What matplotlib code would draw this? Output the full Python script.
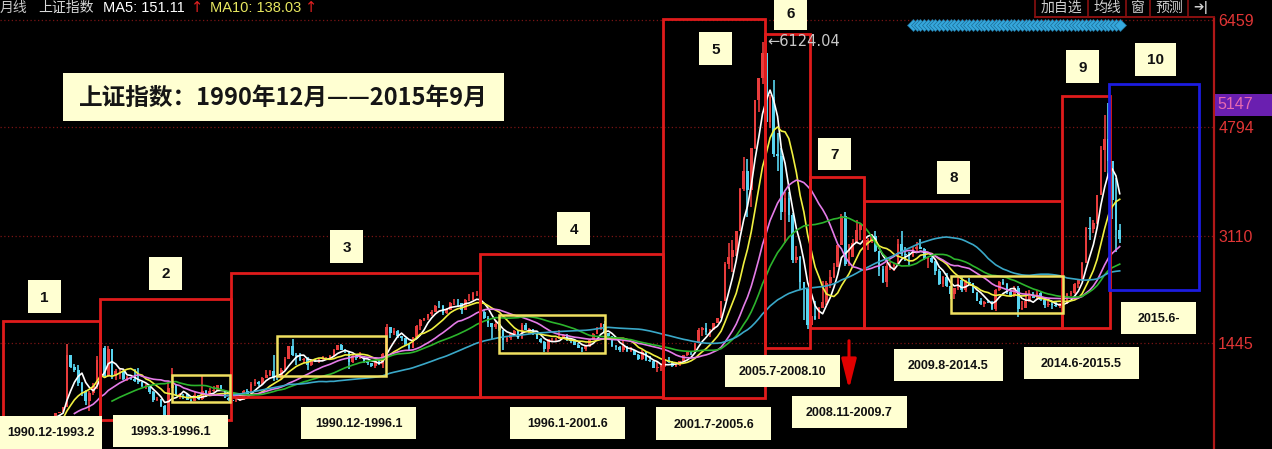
import numpy as np
import pandas as pd
import matplotlib
matplotlib.use("Agg")
import matplotlib.pyplot as plt
from matplotlib.patches import Rectangle

# ---------------- data (SSE Composite, monthly, 1990.12 - 2015.9) ----------------
first_open = 96.05
close = [127.6,
 130,133,120,114,115,138,144,178,181,219,260,293,
 313,365,372,445,1266,1068,1028,822,703,543,670,780,
 1186,1371,926,1358,935,1007,1008,886,918,889,860,833,
 771,773,688,557,568,467,333,748,791,639,648,647,
 563,550,643,578,700,630,700,713,786,716,598,555,
 537,552,558,694,643,816,833,807,905,946,1007,917,
 914,1032,1197,1392,1262,1243,1184,1200,1097,1173,1169,1194,
 1206,1209,1244,1343,1411,1339,1316,1150,1250,1217,1247,1147,
 1134,1090,1158,1120,1279,1689,1601,1627,1556,1518,1425,1367,
 1535,1714,1800,1836,1894,1928,2023,2022,1911,1961,2070,2073,
 2066,1959,2112,2119,2214,2218,1920,1834,1748,1690,1747,1646,
 1491,1525,1580,1631,1515,1732,1652,1670,1581,1508,1460,1357,
 1500,1511,1511,1521,1576,1487,1476,1421,1367,1348,1397,1497,
 1590,1675,1741,1595,1555,1399,1386,1342,1396,1321,1341,1266,
 1191,1306,1181,1159,1060,1080,1083,1162,1155,1092,1099,1161,
 1258,1299,1298,1440,1641,1672,1612,1658,1752,1837,2099,2675,
 2786,2881,3183,3841,4109,3820,4471,5218,5552,5954,4871,5261,
 4383,4348,3472,3693,3433,2736,2775,2397,2293,1729,1871,1821,
 1990,2082,2373,2477,2632,2959,3412,2667,2779,2995,3195,3277,
 2989,3051,3109,2870,2592,2398,2638,2639,2655,2979,2820,2808,
 2790,2905,2928,2911,2743,2762,2701,2567,2359,2468,2333,2199,
 2292,2428,2263,2396,2373,2225,2103,2047,2086,2069,1980,2269,
 2385,2366,2237,2178,2301,1979,1994,2098,2175,2142,2221,2116,
 2033,2056,2033,2026,2039,2048,2202,2217,2364,2420,2683,3235,
 3210,3310,3748,4442,4612,4277,3664,3206,3053]
high = [127.6,
 135,134,133,120,116,138,144,179,181,219,260,293,
 313,365,378,445,1429,1256,1120,1102,840,712,700,818,
 1239,1558,1392,1392,1350,1036,1052,1005,940,924,1044,1054,
 843,810,796,695,610,575,478,840,1052,810,675,655,
 650,570,680,640,926,720,740,770,792,790,720,600,
 555,570,575,712,735,840,888,860,910,1020,1030,1258,
 950,1050,1230,1395,1510,1290,1285,1210,1230,1200,1200,1200,
 1240,1220,1260,1350,1420,1422,1350,1320,1260,1250,1300,1250,
 1160,1140,1160,1180,1290,1740,1700,1680,1640,1560,1530,1430,
 1540,1720,1810,1840,1900,1950,2030,2100,2030,1990,2080,2125,
 2130,2070,2130,2200,2230,2245,2220,1960,1860,1760,1800,1780,
 1650,1540,1600,1650,1640,1750,1748,1680,1670,1590,1520,1470,
 1510,1525,1530,1649,1580,1580,1520,1480,1440,1390,1420,1500,
 1600,1690,1760,1783,1600,1560,1420,1400,1495,1400,1380,1340,
 1270,1330,1320,1240,1160,1150,1100,1200,1225,1170,1110,1170,
 1260,1310,1310,1445,1680,1700,1757,1660,1755,1840,2100,2700,
 2990,3050,3190,3850,4335,4300,4475,5220,5560,6124,5950,5300,
 5520,4700,4470,3786,3786,3460,2950,2800,2350,2300,2000,2100,
 2010,2400,2400,2580,2690,2975,3454,3478,2980,3060,3361,3290,
 3306,3080,3130,3181,2860,2640,2680,2700,2690,3060,3186,2940,
 2860,2940,3010,3067,2920,2775,2827,2720,2590,2480,2536,2330,
 2300,2470,2478,2420,2453,2380,2240,2150,2100,2120,2100,2276,
 2400,2444,2380,2270,2330,2330,2090,2250,2270,2240,2260,2230,
 2120,2100,2080,2100,2060,2080,2220,2250,2370,2430,2700,3240,
 3400,3350,3750,4500,4985,5178,4200,4000,3300]
low = [95.8,
 128,129,120,105,105,114,136,143,174,181,218,259,
 292,313,360,370,617,1060,993,780,620,490,386,637,
 733,1140,900,917,890,870,884,871,857,870,840,807,
 760,735,660,530,540,450,325,333,750,620,580,570,
 560,524,545,560,555,610,620,690,700,710,590,550,
 512,530,540,555,630,640,780,780,800,900,940,855,
 870,890,1030,1190,1250,1100,1160,1130,1025,1090,1150,1130,
 1180,1180,1200,1240,1340,1330,1290,1043,1140,1180,1200,1130,
 1100,1080,1060,1110,1050,1280,1530,1570,1520,1480,1400,1341,
 1360,1530,1650,1780,1800,1860,1930,1990,1880,1900,1960,2030,
 2000,1894,1960,2090,2110,2170,1890,1810,1700,1514,1670,1630,
 1339,1460,1490,1560,1500,1500,1640,1590,1570,1500,1440,1311,
 1311,1470,1470,1500,1510,1480,1450,1410,1360,1307,1320,1390,
 1490,1580,1640,1580,1500,1390,1330,1300,1300,1310,1300,1259,
 1180,1180,1170,1150,1050,998,1004,1080,1140,1080,1074,1090,
 1160,1250,1260,1290,1440,1550,1570,1540,1640,1750,1830,2100,
 2600,2540,2800,3190,3800,3400,3560,4450,5030,5460,4780,4780,
 4330,4120,3350,2990,3330,2690,2690,2284,1802,1664,1678,1800,
 1820,1990,2030,2300,2460,2630,2960,2640,2640,2780,2990,3050,
 2950,2890,3000,2860,2481,2380,2319,2580,2570,2650,2790,2720,
 2661,2780,2850,2900,2730,2610,2690,2500,2350,2307,2310,2134,
 2132,2270,2242,2240,2350,2220,2100,2040,1999,2060,1960,1949,
 2259,2340,2210,2160,2160,1849,1950,1990,2080,2140,2110,2090,
 1984,2010,1974,2010,1991,2010,2050,2170,2200,2300,2400,2680,
 3050,3150,3300,3750,4100,4000,3373,2850,3000]

ma_windows = [5, 10, 20, 30, 60]
ma_colors = ["#FFFFFF", "#F0F040", "#E47CE8", "#2CB42C", "#3AA8C8"]
diamond_months = list(range(242, 298))
price_ticks = [1445, 3110, 4794, 6459]
marked_price = 5147
peak_text = "←6124.04"

big_boxes = [  # label, x0, y0, x1, y1  (screen pixels)
    ("1", 3, 321, 100, 447), ("2", 100, 299, 231, 420), ("3", 231, 273, 480, 397),
    ("4", 480, 254, 663, 397), ("5", 663, 19, 765, 398), ("6", 765, 34, 810, 348),
    ("7", 810, 177, 864, 328), ("8", 864, 201, 1062, 328), ("9", 1062, 96, 1110, 328)]
num_tags = [("1", 28, 280, 61, 313), ("2", 149, 257, 182, 290), ("3", 330, 230, 363, 263),
            ("4", 557, 212, 590, 245), ("5", 699, 32, 732, 65), ("6", 774, -3, 807, 30),
            ("7", 818, 138, 851, 170), ("8", 937, 161, 970, 194), ("9", 1066, 50, 1099, 83),
            ("10", 1135, 43, 1176, 76)]
yellow_boxes = [(172, 375, 230, 402), (277, 336, 386, 376), (499, 315, 605, 353), (951, 276, 1063, 313)]
date_tags = [("1990.12-1993.2", 0, 416, 102, 449), ("1993.3-1996.1", 113, 415, 228, 447),
             ("1990.12-1996.1", 301, 407, 416, 439), ("1996.1-2001.6", 510, 407, 625, 439),
             ("2001.7-2005.6", 656, 407, 771, 440), ("2005.7-2008.10", 725, 355, 840, 387),
             ("2008.11-2009.7", 792, 396, 907, 428), ("2009.8-2014.5", 894, 349, 1003, 381),
             ("2014.6-2015.5", 1024, 347, 1139, 379), ("2015.6-", 1121, 302, 1196, 334)]

# ---------------- figure ----------------
W, H = 1272, 449
fig = plt.figure(figsize=(W / 100, H / 100), dpi=100, facecolor="black")
k = 323 / 5014.0           # pixels per index point
y_top = 6459 + 2 / k
y_bot = 6459 - 429 / k
x_left = -3 / 3.76
x_right = (1214 - 3) / 3.76

ax = fig.add_axes([0, 0, 1214 / W, 431 / H], facecolor="black")
ax.set_xlim(x_left, x_right)
ax.set_ylim(y_bot, y_top)

c = np.array(close, float)
h = np.array(high, float)
l = np.array(low, float)
o = np.r_[first_open, c[:-1]]
x = np.arange(len(c))
up = c >= o
dn = ~up
red, cyan = "#E83C3C", "#58D4F0"
ax.vlines(x[up], l[up], h[up], color=red, lw=1.2, zorder=2)
ax.bar(x[up], c[up] - o[up], bottom=o[up], width=0.7, color=red, lw=0, zorder=2)
ax.vlines(x[dn], l[dn], h[dn], color=cyan, lw=1.2, zorder=2)
ax.bar(x[dn], o[dn] - c[dn], bottom=c[dn], width=0.7, color=cyan, lw=0, zorder=2)

s = pd.Series(c)
for w, col in zip(ma_windows, ma_colors):
    ax.plot(x, s.rolling(w).mean(), color=col, lw=1.2, zorder=3)

for p in price_ticks:
    ax.axhline(p, color="#7A1414", lw=0.9, ls=(0, (1, 2)), zorder=1)

ax.plot(diamond_months, [0.984] * len(diamond_months), "D", color="#35A8DD",
        ms=5.8, mec="#1E6E96", mew=0.5, transform=ax.get_xaxis_transform(), clip_on=False, zorder=4)

for sp in ["top", "left", "bottom"]:
    ax.spines[sp].set_visible(False)
ax.spines["right"].set_color("#B01818")
ax.spines["right"].set_linewidth(1.6)
ax.set_xticks([])
ax.yaxis.tick_right()
ax.set_yticks(price_ticks)
ax.set_yticklabels([str(p) for p in price_ticks], color="#E03535", fontsize=11.5,
                   family="Liberation Sans")
ax.tick_params(axis="y", length=0, pad=3)

# ---------------- overlay (screen pixels) ----------------
ov = fig.add_axes([0, 0, 1, 1])
ov.set_xlim(0, W)
ov.set_ylim(H, 0)
ov.axis("off")
ov.patch.set_alpha(0)

cjk = ["Noto Sans CJK SC", "DejaVu Sans"]
lat = ["Liberation Sans", "DejaVu Sans"]

# purple price marker
mp_y = 20 + (6459 - marked_price) * k
ov.add_patch(Rectangle((1215, mp_y - 11), 57, 22, facecolor="#6A1FB0", edgecolor="none", zorder=5))
ov.text(1217, mp_y, str(marked_price), color="#E86AB0", fontsize=11.5, family=lat,
        va="center", ha="left", zorder=6)

for lab, x0, y0, x1, y1 in big_boxes:
    ov.add_patch(Rectangle((x0, y0), x1 - x0, y1 - y0, fill=False, edgecolor="#E01B1B", lw=2.0, zorder=3))
ov.add_patch(Rectangle((1109, 84), 90, 206, fill=False, edgecolor="#1C1CE0", lw=2.0, zorder=3))
for x0, y0, x1, y1 in yellow_boxes:
    ov.add_patch(Rectangle((x0, y0), x1 - x0, y1 - y0, fill=False, edgecolor="#F0E060", lw=1.8, zorder=3))

tag_bg = "#FFFFD2"
for lab, x0, y0, x1, y1 in num_tags:
    ov.add_patch(Rectangle((x0, y0), x1 - x0, y1 - y0, facecolor=tag_bg, edgecolor="none", zorder=4))
    ov.text((x0 + x1) / 2, (y0 + y1) / 2 + 1, lab, fontsize=11, weight="bold", family=lat,
            ha="center", va="center", color="#111111", zorder=5)
for lab, x0, y0, x1, y1 in date_tags:
    ov.add_patch(Rectangle((x0, y0), x1 - x0, y1 - y0, facecolor=tag_bg, edgecolor="none", zorder=4))
    ov.text((x0 + x1) / 2, (y0 + y1) / 2 + 1, lab, fontsize=9, weight="bold", family=lat,
            ha="center", va="center", color="#111111", zorder=5)

# title box
ov.add_patch(Rectangle((63, 73), 441, 48, facecolor=tag_bg, edgecolor="none", zorder=4))
ov.text(283, 98, "上证指数：1990年12月——2015年9月", fontsize=17, weight="bold", family=cjk,
        ha="center", va="center", color="#151515", zorder=5)

# peak annotation
ov.text(767, 41, peak_text, fontsize=10.5, family=["DejaVu Sans"], color="#C8C8C8",
        ha="left", va="center", zorder=5)

# red arrow
ov.annotate("", xy=(849, 392), xytext=(849, 338),
            arrowprops=dict(arrowstyle="-|>,head_length=1.2,head_width=0.3", color="#E00000",
                            lw=2.2, mutation_scale=15), zorder=5)

# header (left)
hy = 8
ov.text(0, hy, "月线", fontsize=10, family=cjk, color="#C8C8C8", va="center", ha="left")
ov.text(38, hy, "上证指数", fontsize=10, family=cjk, color="#D8D8D8", va="center", ha="left")
ov.text(103, hy, "MA5: 151.11", fontsize=10.5, family=lat, color="#FFFFFF", va="center", ha="left")
ov.text(191, hy, "↑", fontsize=10.5, family=["DejaVu Sans"], color="#E02020", va="center", ha="left")
ov.text(210, hy, "MA10: 138.03", fontsize=10.5, family=lat, color="#E8E860", va="center", ha="left")
ov.text(305, hy, "↑", fontsize=10.5, family=["DejaVu Sans"], color="#E02020", va="center", ha="left")

# header (right buttons)
ov.plot([1035, 1214], [17, 17], color="#8A1010", lw=1.4)
for sx in [1035, 1088, 1126, 1150, 1188]:
    ov.plot([sx, sx], [0, 17], color="#8A1010", lw=1.2)
for txt, cx in [("加自选", 1061), ("均线", 1107), ("窗", 1138), ("预测", 1169)]:
    ov.text(cx, 8, txt, fontsize=10, family=cjk, color="#D0D0D0", ha="center", va="center")
ov.text(1201, 8, "➔|", fontsize=9, family=["DejaVu Sans"], color="#D0D0D0", ha="center",
        va="center", weight="bold")

fig.savefig("out.png", dpi=100, facecolor="black")
